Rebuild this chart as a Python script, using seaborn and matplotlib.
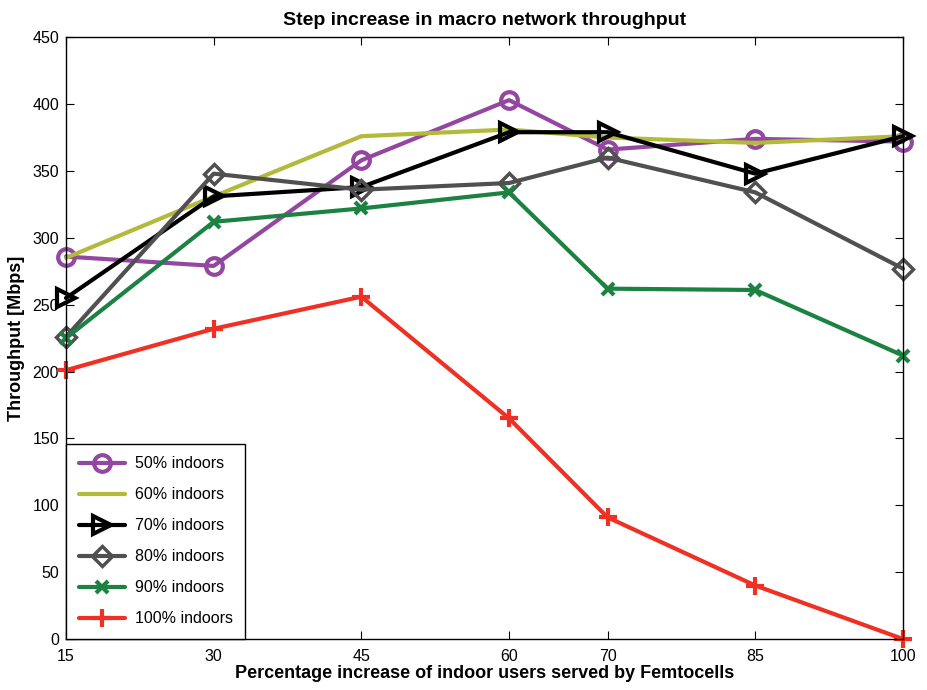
import numpy as np
import pandas as pd
import matplotlib
matplotlib.use("Agg")
import matplotlib.pyplot as plt
import seaborn as sns

# values
x_pct = [15, 30, 45, 60, 70, 85, 100]
in50 = [286, 279, 358, 403, 366, 374, 372]
in60 = [285, 331, 376, 381, 375, 371, 376]
in70 = [255, 331, 338, 379, 379, 348, 376]
in80 = [226, 348, 336, 341, 360, 334, 277]
in90 = [225, 312, 322, 334, 262, 261, 212]
in100 = [201, 232, 256, 165, 91, 40, 0]

series = {
    "50% indoors": in50,
    "60% indoors": in60,
    "70% indoors": in70,
    "80% indoors": in80,
    "90% indoors": in90,
    "100% indoors": in100,
}
colors = ["#9447A0", "#B3BA3A", "#000000", "#505050", "#1B8241", "#EE3124"]
markers = ["o", None, ">", "D", "x", "+"]
msizes = [12, 0, 13, 10, 9, 13]

df = pd.DataFrame([(x, v, name) for name, vals in series.items()
                   for x, v in zip(x_pct, vals)],
                  columns=["pct", "thr", "group"])

sns.set_style("white")
plt.rcParams["font.family"] = ["Liberation Sans", "DejaVu Sans"]
plt.rcParams["text.color"] = "black"
plt.rcParams["axes.labelcolor"] = "black"

fig = plt.figure(figsize=(9.28, 6.9), dpi=100)
ax = fig.add_axes([0.0711, 0.0739, 0.9019, 0.8721])

for (name, _), c, m, ms in zip(series.items(), colors, markers, msizes):
    sub = df[df["group"] == name]
    sns.lineplot(data=sub, x="pct", y="thr", ax=ax, color=c, lw=3,
                 marker=m, markersize=ms, markerfacecolor="none",
                 markeredgecolor=c, markeredgewidth=3 if m != "D" else 2.5,
                 label=name, estimator=None, sort=False, clip_on=False)

ax.set_xlim(15, 100)
ax.set_ylim(0, 450)
ax.set_xticks(x_pct)
ax.set_yticks(np.arange(0, 451, 50))
ax.tick_params(direction="in", length=6, width=0.8, labelsize=11.5,
               top=True, right=True, bottom=True, left=True, colors="black")
ax.tick_params(axis="x", pad=7)
ax.tick_params(axis="y", pad=5)
for s in ax.spines.values():
    s.set_color("black")
    s.set_linewidth(1)

ax.set_title("Step increase in macro network throughput",
             fontsize=14, fontweight="bold", pad=9)
ax.set_xlabel("Percentage increase of indoor users served by Femtocells",
              fontsize=13, fontweight="bold", labelpad=1)
ax.set_ylabel("Throughput [Mbps]", fontsize=13, fontweight="bold", labelpad=5)

leg = ax.legend(loc="lower left", borderaxespad=0, fontsize=11.5,
                fancybox=False, framealpha=1, edgecolor="black",
                handlelength=2.9, handletextpad=0.6, labelspacing=1.0,
                borderpad=0.8)
leg.get_frame().set_linewidth(1)
for t in leg.get_texts():
    t.set_color("black")

fig.savefig("out.png", dpi=100)
